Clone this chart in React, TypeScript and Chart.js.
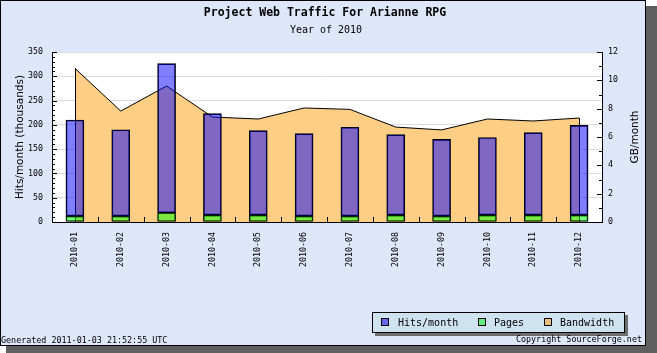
import React, { useEffect, useRef } from 'react';
import { Chart, registerables } from 'chart.js';

Chart.register(...registerables);

const months = ['2010-01', '2010-02', '2010-03', '2010-04', '2010-05', '2010-06', '2010-07', '2010-08', '2010-09', '2010-10', '2010-11', '2010-12'];
const hitsThousands = [210, 190, 326, 223, 188, 182, 195, 180, 170, 174, 184, 199];
const pagesThousands = [12, 12, 19, 14, 14, 12, 12, 14, 12, 14, 14, 14];
const bandwidthGB = [10.85, 7.83, 9.6, 7.41, 7.27, 8.05, 7.95, 6.7, 6.5, 7.27, 7.13, 7.34];

const leftMax = 350;
const leftStep = 50;
const leftMinor = 10;
const rightMax = 12;
const rightStep = 2;
const rightMinor = 1;

const titleText = 'Project Web Traffic For Arianne RPG';
const subtitleText = 'Year of 2010';
const leftAxisTitle = 'Hits/month (thousands)';
const rightAxisTitle = 'GB/month';
const generatedText = 'Generated 2011-01-03 21:52:55 UTC';
const copyrightText = 'Copyright SourceForge.net';
const legendLabels = ['Hits/month', 'Pages', 'Bandwidth'];
const legendColors = ['#6464f0', '#64ec80', '#e8c07c'];

const MONO = '"DejaVu Sans Mono", monospace';
const SANS = '"DejaVu Sans", sans-serif';

const decorPlugin = {
  id: 'decor',
  beforeDraw(chart: any) {
    const ctx = chart.ctx;
    const a = chart.chartArea;
    ctx.save();
    ctx.fillStyle = '#ffffff';
    ctx.fillRect(0, 0, 657, 353);
    ctx.fillStyle = '#5e5e5e';
    ctx.fillRect(6, 6, 651, 347);
    ctx.fillStyle = '#dee6fa';
    ctx.fillRect(0, 0, 646, 346);
    ctx.strokeStyle = '#000';
    ctx.lineWidth = 1;
    ctx.strokeRect(0.5, 0.5, 645, 345);
    ctx.fillStyle = '#ffffff';
    ctx.fillRect(a.left, a.top, a.right - a.left, a.bottom - a.top);

    ctx.fillStyle = '#000';
    ctx.textAlign = 'center';
    ctx.textBaseline = 'middle';
    ctx.font = `bold 11.5px ${MONO}`;
    ctx.fillText(titleText, 325, 13);
    ctx.font = `10px ${MONO}`;
    ctx.fillText(subtitleText, 326, 30);
    ctx.restore();
  },
  afterDatasetDraw(chart: any, args: any) {
    if (args.index !== 2) return;
    const ctx = chart.ctx;
    const meta = chart.getDatasetMeta(2);
    const pts = meta.data;
    const a = chart.chartArea;
    ctx.save();
    ctx.strokeStyle = '#000';
    ctx.lineWidth = 1;
    ctx.beginPath();
    [pts[0], pts[pts.length - 1]].forEach((p: any) => {
      const x = Math.round(p.x) + 0.5;
      ctx.moveTo(x, p.y);
      ctx.lineTo(x, a.bottom);
    });
    ctx.stroke();
    ctx.restore();
  },
  afterDatasetsDraw(chart: any) {
    const ctx = chart.ctx;
    const a = chart.chartArea;
    const ys = chart.scales.y;
    const y1 = chart.scales.y1;
    const xs = chart.scales.x;
    ctx.save();
    ctx.strokeStyle = '#000';
    ctx.lineWidth = 1;
    ctx.beginPath();
    for (let v = 0; v <= leftMax; v += leftMinor) {
      const p = Math.round(ys.getPixelForValue(v)) + 0.5;
      const len = v % leftStep === 0 ? 5 : 3;
      ctx.moveTo(a.left, p);
      ctx.lineTo(a.left + len, p);
    }
    for (let v = 0; v <= rightMax; v += rightMinor) {
      const p = Math.round(y1.getPixelForValue(v)) + 0.5;
      const len = v % rightStep === 0 ? 5 : 3;
      ctx.moveTo(a.right, p);
      ctx.lineTo(a.right - len, p);
    }
    for (let i = 1; i < months.length; i++) {
      const p = Math.round((xs.getPixelForValue(i - 1) + xs.getPixelForValue(i)) / 2) + 0.5;
      ctx.moveTo(p, a.bottom);
      ctx.lineTo(p, a.bottom - 5);
    }
    ctx.stroke();
    ctx.restore();
  },
  afterDraw(chart: any) {
    const ctx = chart.ctx;
    const a = chart.chartArea;
    ctx.save();
    // right axis title, reading bottom to top
    ctx.save();
    ctx.translate(635, (a.top + a.bottom) / 2);
    ctx.rotate(-Math.PI / 2);
    ctx.font = `10.5px ${SANS}`;
    ctx.fillStyle = '#000';
    ctx.textAlign = 'center';
    ctx.textBaseline = 'middle';
    ctx.fillText(rightAxisTitle, 0, 0);
    ctx.restore();
    // legend box
    const lx = 372, ly = 312, lw = 253, lh = 21;
    ctx.fillStyle = '#6e6e6e';
    ctx.fillRect(lx + 3, ly + 3, lw, lh);
    ctx.fillStyle = '#cfe2f0';
    ctx.fillRect(lx, ly, lw, lh);
    ctx.strokeStyle = '#000';
    ctx.lineWidth = 1;
    ctx.strokeRect(lx + 0.5, ly + 0.5, lw - 1, lh - 1);
    const sqX = [381, 478, 544];
    const txX = [398, 494, 560];
    ctx.font = `10px ${MONO}`;
    ctx.textBaseline = 'middle';
    ctx.textAlign = 'left';
    legendLabels.forEach((lab, i) => {
      ctx.fillStyle = legendColors[i];
      ctx.fillRect(sqX[i], 318, 8, 8);
      ctx.strokeStyle = '#000';
      ctx.strokeRect(sqX[i] + 0.5, 318.5, 7, 7);
      ctx.fillStyle = '#000';
      ctx.fillText(lab, txX[i], 323);
    });
    // footer
    ctx.font = `8.4px ${MONO}`;
    ctx.fillStyle = '#000';
    ctx.textAlign = 'left';
    ctx.fillText(generatedText, 1, 340.5);
    ctx.textAlign = 'right';
    ctx.fillText(copyrightText, 642, 339.5);
    ctx.restore();
  },
};

export default function App() {
  const ref = useRef<HTMLCanvasElement | null>(null);
  useEffect(() => {
    if (!ref.current) return;
    const chart = new Chart(ref.current, {
      type: 'bar',
      data: {
        labels: months,
        datasets: [
          {
            type: 'bar',
            label: legendLabels[0],
            data: months.map((_, i) => [pagesThousands[i], hitsThousands[i]]) as any,
            backgroundColor: 'rgba(0,0,255,0.5)',
            borderColor: '#000',
            borderWidth: 1,
            borderSkipped: false,
            barThickness: 18,
            grouped: false,
            yAxisID: 'y',
            order: 2,
          },
          {
            type: 'bar',
            label: legendLabels[1],
            data: pagesThousands,
            backgroundColor: 'rgba(0,255,0,0.5)',
            borderColor: '#000',
            borderWidth: 1,
            borderSkipped: false,
            barThickness: 18,
            grouped: false,
            yAxisID: 'y',
            order: 1,
          },
          {
            type: 'line',
            label: legendLabels[2],
            data: bandwidthGB,
            borderColor: '#000',
            borderWidth: 1,
            backgroundColor: '#fece84',
            fill: 'origin',
            pointRadius: 0,
            tension: 0,
            yAxisID: 'y1',
            order: 3,
          } as any,
        ],
      },
      options: {
        animation: false,
        responsive: false,
        devicePixelRatio: 1,
        layout: { padding: { top: 52, left: 0, right: 0, bottom: 0 } },
        plugins: {
          legend: { display: false },
          tooltip: { enabled: false },
          title: { display: false },
        },
        scales: {
          x: {
            type: 'category',
            offset: true,
            grid: { display: false, drawTicks: false },
            border: { display: true, color: '#000', width: 1 },
            ticks: {
              color: '#000',
              font: { family: MONO, size: 8.3 },
              maxRotation: 90,
              minRotation: 90,
              padding: 10,
              autoSkip: false,
            },
            afterFit(scale: any) {
              scale.height = 131;
            },
          },
          y: {
            position: 'left',
            min: 0,
            max: leftMax,
            grid: { color: '#dcdcdc', drawTicks: false },
            border: { display: true, color: '#000', width: 1 },
            ticks: {
              stepSize: leftStep,
              color: '#000',
              font: { family: MONO, size: 8.3 },
              padding: 9,
            },
            title: {
              display: true,
              text: leftAxisTitle,
              color: '#000',
              font: { family: SANS, size: 10.5 },
              padding: { top: 14, bottom: 0 },
            },
            afterFit(scale: any) {
              scale.width = 52;
            },
          },
          y1: {
            position: 'right',
            min: 0,
            max: rightMax,
            grid: { display: false, drawTicks: false },
            border: { display: true, color: '#000', width: 1 },
            ticks: {
              stepSize: rightStep,
              color: '#000',
              font: { family: MONO, size: 8.3 },
              padding: 6,
            },
            afterFit(scale: any) {
              scale.width = 55;
            },
          },
        },
      },
      plugins: [decorPlugin],
    });
    return () => chart.destroy();
  }, []);
  return (
    <div style={{ position: 'fixed', left: 0, top: 0, width: 657, height: 353 }}>
      <canvas ref={ref} width={657} height={353} style={{ display: 'block', width: 657, height: 353 }} />
    </div>
  );
}
